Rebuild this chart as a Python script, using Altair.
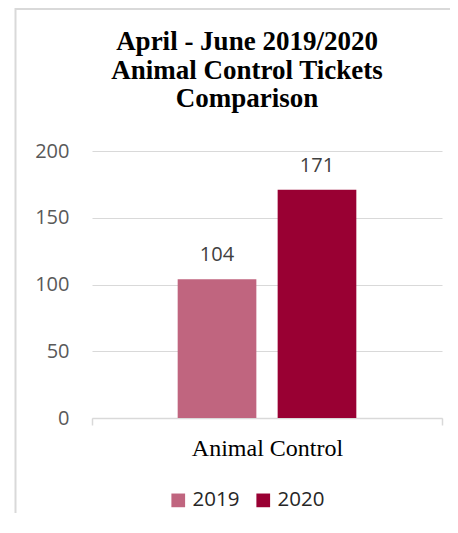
import altair as alt
import pandas as pd

categories = ["Animal Control", "Animal Control"]
years = ["2019", "2020"]
tickets = [104, 171]
colors = ["#C0657F", "#990033"]
y_ticks = [0, 50, 100, 150, 200]
title_lines = ["April - June 2019/2020", "Animal Control Tickets", "Comparison"]

df = pd.DataFrame({"category": categories, "year": years, "tickets": tickets})

W, H = 350, 267
PAD = {"left": 84, "top": 143, "right": 8, "bottom": 95}

base = alt.Chart(df)

x_enc = alt.X(
    "category:N",
    title=None,
    scale=alt.Scale(paddingInner=0, paddingOuter=0),
    axis=alt.Axis(
        labelAngle=0, labelFont="Liberation Serif", labelFontSize=24,
        labelColor="#000000", domainColor="#d9d9d9", domainWidth=1.5,
        tickColor="#d9d9d9", tickWidth=1.5, tickSize=7, tickBand="extent",
        labelPadding=11, grid=False,
    ),
)
xoff_enc = alt.XOffset("year:N", scale=alt.Scale(paddingInner=0.213, paddingOuter=0.857))
y_enc = alt.Y(
    "tickets:Q",
    title=None,
    scale=alt.Scale(domain=[0, 200]),
    axis=alt.Axis(
        values=y_ticks, domain=False, ticks=False, grid=True,
        gridColor="#d9d9d9", gridWidth=1.2, labelFont="Open Sans",
        labelFontSize=20, labelColor="#595959", labelPadding=23,
    ),
)

bars = base.mark_bar().encode(
    x=x_enc,
    xOffset=xoff_enc,
    y=y_enc,
    color=alt.Color(
        "year:N",
        scale=alt.Scale(domain=years, range=colors),
        legend=alt.Legend(
            title=None, orient="none", legendX=76, legendY=339,
            direction="horizontal", symbolType="square", symbolSize=188,
            symbolStrokeWidth=0, labelFont="Open Sans", labelFontSize=20.5,
            labelColor="#262626", columnPadding=13, labelOffset=4,
        ),
    ),
)

labels = base.mark_text(
    baseline="alphabetic", dy=-18, font="Open Sans", fontSize=20, color="#404040"
).encode(
    x=x_enc,
    xOffset=xoff_enc,
    y=y_enc,
    text="tickets:Q",
)

frame = alt.Chart(pd.DataFrame({"a": [0]}))
border_left = frame.mark_rule(color="#d9d9d9", strokeWidth=2).encode(
    x=alt.value(-76.5), y=alt.value(-PAD["top"]), y2=alt.value(H + PAD["bottom"])
)
border_top = frame.mark_rule(color="#d9d9d9", strokeWidth=2).encode(
    x=alt.value(-77), x2=alt.value(W + PAD["right"]), y=alt.value(-PAD["top"] + 1)
)

chart = alt.layer(border_left, border_top, bars, labels).properties(
    width=W,
    height=H,
    padding=PAD,
    autosize=alt.AutoSizeParams(type="none"),
    title=alt.TitleParams(
        title_lines, font="Liberation Serif", fontSize=27, fontWeight="bold",
        color="#000000", lineHeight=28.5, anchor="middle", dx=-20, offset=-106,
    ),
).configure_view(stroke=None)

chart.save("out.html", embed_options={"renderer": "svg", "actions": False})
